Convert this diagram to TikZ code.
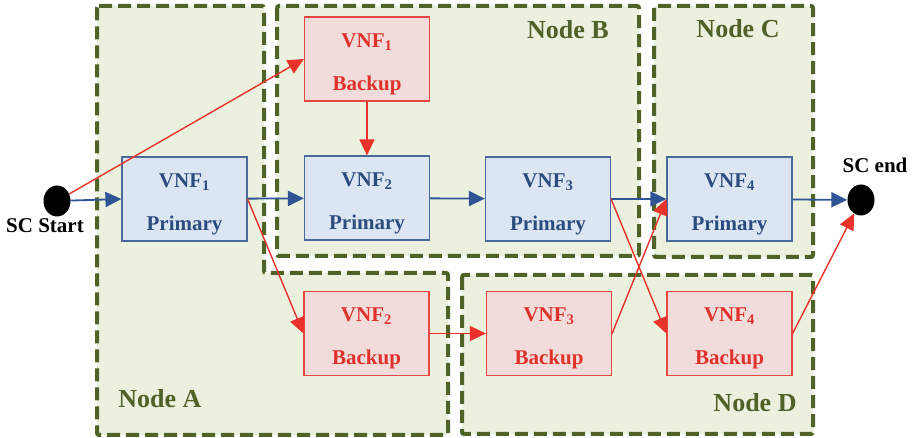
\documentclass[tikz,border=0pt]{standalone}
\usepackage{fontspec}
\setmainfont{Liberation Serif}
\usepackage{tikz}
\usetikzlibrary{arrows.meta}
\usetikzlibrary{shapes.geometric}
\definecolor{regfill}{HTML}{EBF1DE}
\definecolor{regline}{HTML}{4F6228}
\definecolor{primfill}{HTML}{DCE6F2}
\definecolor{primline}{HTML}{4A6A9C}
\definecolor{primtext}{HTML}{2B4C7E}
\definecolor{primarr}{HTML}{2F5597}
\definecolor{bkpfill}{HTML}{F2DCDB}
\definecolor{bkpline}{HTML}{E8473F}
\definecolor{bkptext}{HTML}{E0312B}
\definecolor{bkparr}{HTML}{E8322A}
\newcommand{\vnftop}{\rule{0pt}{24pt}}
\tikzstyle{region} = [draw=regline, fill=regfill, line width=4pt, dash pattern=on 13pt off 6pt, rounded corners=2pt]
\tikzstyle{prim} = [rectangle, draw=primline, fill=primfill, text=primtext, line width=1.2pt, minimum width=125pt, minimum height=84pt, align=center, font=\fontsize{21}{43}\selectfont\bfseries]
\tikzstyle{bkp} = [rectangle, draw=bkpline, fill=bkpfill, text=bkptext, line width=1.2pt, minimum width=125pt, minimum height=84pt, align=center, font=\fontsize{21}{43}\selectfont\bfseries]
\tikzstyle{sc} = [ellipse, fill=black, minimum width=27pt, minimum height=31pt, inner sep=0]
\tikzstyle{reglbl} = [draw=none, text=regline, font=\fontsize{26}{30}\selectfont\bfseries]
\tikzstyle{sclbl} = [draw=none, font=\fontsize{21}{25}\selectfont\bfseries]
\tikzstyle{wk} = [-{Triangle[length=16pt,width=15pt]}, draw=primarr, fill=primarr, line width=1.8pt]
\tikzstyle{bk} = [-{Triangle[length=16pt,width=15pt]}, draw=bkparr, fill=bkparr, line width=1.4pt]

\begin{document}
\begin{tikzpicture}[x=1pt, y=-1pt]
\useasboundingbox (0,0) rectangle (914,438);
% server regions
\draw [region] (97,6) -- (264,6) -- (264,273) -- (448,273) -- (448,435) -- (97,435) -- cycle;
\draw [region] (277,6) rectangle (639,256);
\draw [region] (654,6) rectangle (813,257);
\draw [region] (462,275) rectangle (813,434);
\node [reglbl] (nA) at (160,399) {Node A};
\node [reglbl] (nB) at (568,30) {Node B};
\node [reglbl] (nC) at (738,29) {Node C};
\node [reglbl] (nD) at (755,403) {Node D};
% service chain
\node [sc] (start) at (57,201) {};
\node [sc] (end) at (861,200) {};
\node [sclbl] (startlbl) at (45,226) {SC Start};
\node [sclbl] (endlbl) at (875,165) {SC end};
\node [prim] (p1) at (184.5,199) {\vnftop VNF\textsubscript{1}\\Primary};
\node [prim] (p2) at (367,198) {\vnftop VNF\textsubscript{2}\\Primary};
\node [prim] (p3) at (548,199) {\vnftop VNF\textsubscript{3}\\Primary};
\node [prim] (p4) at (729.5,199) {\vnftop VNF\textsubscript{4}\\Primary};
\node [bkp] (b1) at (367,59) {\vnftop VNF\textsubscript{1}\\Backup};
\node [bkp] (b2) at (366.5,333.5) {\vnftop VNF\textsubscript{2}\\Backup};
\node [bkp] (b3) at (549,333.5) {\vnftop VNF\textsubscript{3}\\Backup};
\node [bkp] (b4) at (729.5,333.5) {\vnftop VNF\textsubscript{4}\\Backup};
% working path
\draw [wk] (start) to (p1.west);
\draw [wk] (p1) to (p2);
\draw [wk] (p2) to (p3);
\draw [wk] (p3) to (p4);
\draw [wk] (p4) to (end);
% backup paths
\draw [bk] (start) to (b1.west);
\draw [bk] (b1) to (p2);
\draw [bk] (p1.east) to (b2.west);
\draw [bk] (b2) to (b3);
\draw [bk] (b3.east) to (p4.west);
\draw [bk] (p3.east) to (b4.west);
\draw [bk] (b4.east) to (end);
\end{tikzpicture}
\end{document}
